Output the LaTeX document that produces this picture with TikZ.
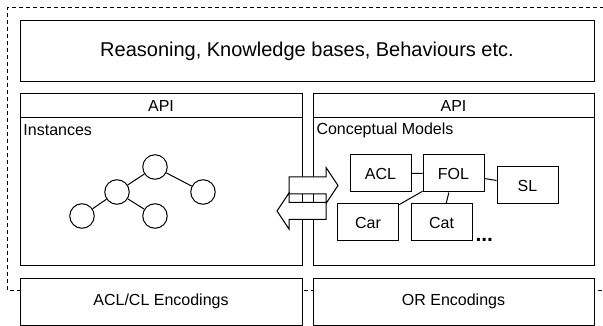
\documentclass[tikz,border=0pt]{standalone}
\usepackage{fontspec}
\setmainfont{Liberation Sans}

\begin{document}
\begin{tikzpicture}[x=1pt,y=-1pt,line width=1pt,
  every node/.style={font=\fontsize{16}{19}\selectfont},
  box/.style={draw,fill=white,rectangle,inner sep=0pt},
  model/.style={box,minimum width=61pt,minimum height=37pt},
  inst/.style={draw,fill=white,circle,minimum size=24.5pt,inner sep=0pt}]
\useasboundingbox (0,0) rectangle (603,326);

% dashed frame, open on the right
\draw[dash pattern=on 4pt off 3pt] (604,8) -- (7,8) -- (7,290) -- (604,290);

\node[box,minimum width=574pt,minimum height=61pt,font=\fontsize{20}{24}\selectfont]
  (reasoning) at (307,51.5) {Reasoning, Knowledge bases, Behaviours etc.};

% the two middle panels
\node[box,minimum width=282pt,minimum height=171pt] (instances) at (161,179.5) {};
\node[box,minimum width=282pt,minimum height=24pt] (api1) at (161,106) {API};
\node[anchor=west,inner sep=0.2em] (instlabel) at (21,130) {Instances};

\node[box,minimum width=281pt,minimum height=171pt] (models) at (453.5,179.5) {};
\node[box,minimum width=281pt,minimum height=24pt] (api2) at (453.5,106) {API};
\node[anchor=west,inner sep=0.2em] (modlabel) at (314,130) {Conceptual Models};

% encodings
\node[box,minimum width=282pt,minimum height=47pt] (enc1) at (161,301.5) {ACL/CL Encodings};
\node[box,minimum width=281pt,minimum height=47pt] (enc2) at (453.5,301.5) {OR Encodings};

% instance tree
\node[inst] (i1) at (155,167) {};
\node[inst] (i2) at (117,192) {};
\node[inst] (i3) at (203,192) {};
\node[inst] (i4) at (82,216) {};
\node[inst] (i5) at (155,216) {};
\draw (i1) -- (i2) (i1) -- (i3) (i2) -- (i4) (i2) -- (i5);

% models
\node[model] (acl) at (380.5,173.5) {ACL};
\node[model] (fol) at (453.5,173.5) {FOL};
\node[model] (sl) at (527.5,185.5) {SL};
\node[model] (car) at (368,222.5) {Car};
\node[model] (cat) at (441.5,222.5) {Cat};
\node[anchor=base west,inner sep=0pt,font=\fontsize{21}{24}\selectfont\bfseries] (more) at (475,241) {...};
\draw (acl) -- (fol) (fol) -- (sl) (car) -- (fol) (cat) -- (fol);

% exchange arrows between the panels
\draw[fill=white] (289,177) -- (326,177) -- (326,167.5) -- (338,185.5)
  -- (326,203.5) -- (326,194) -- (289,194) -- cycle;
\draw[fill=white] (326,202.5) -- (289,202.5) -- (289,193) -- (277,211)
  -- (289,229) -- (289,219.5) -- (326,219.5) -- cycle;
\end{tikzpicture}
\end{document}
